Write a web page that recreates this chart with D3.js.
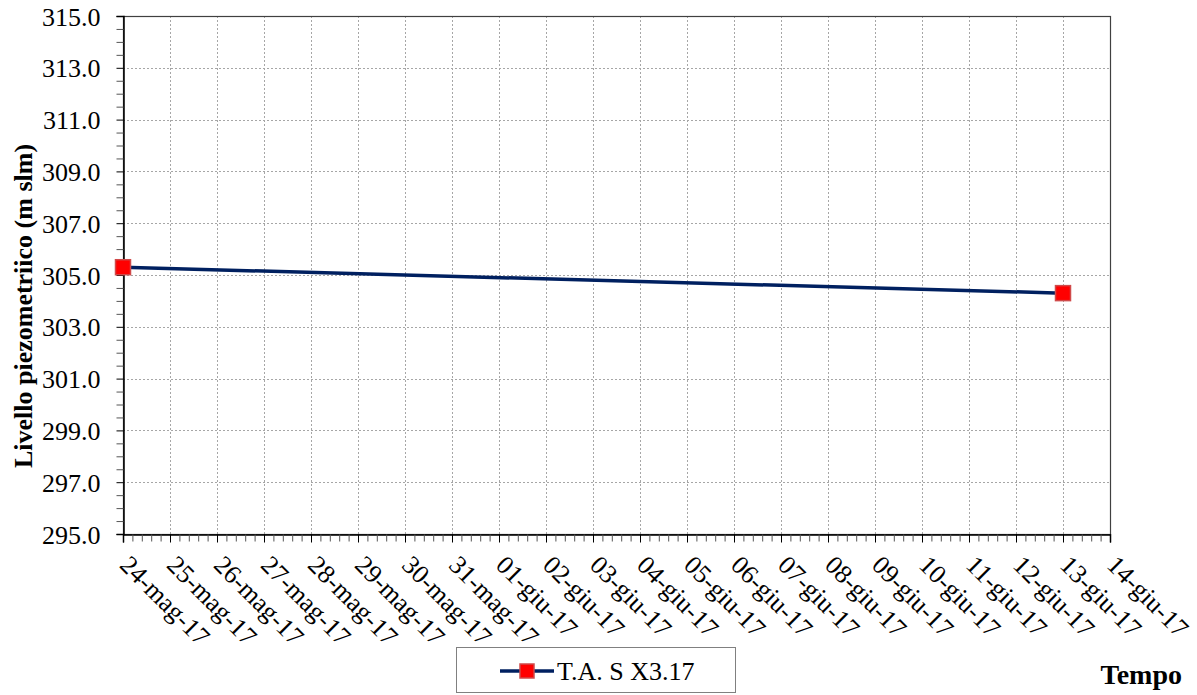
<!DOCTYPE html>
<html>
<head>
<meta charset="utf-8">
<script src="https://cdn.jsdelivr.net/npm/d3@7"></script>
<style>
  html, body { margin: 0; padding: 0; background: #fff; }
  svg { display: block; }
</style>
</head>
<body>
<svg id="chart" width="1197" height="695"></svg>
<script>
// ---- data ----
const seriesName = "T.A. S X3.17";
const pointDates = ["2017-05-24", "2017-06-13"];
const pointValues = [305.3, 304.3];
const xDomain = ["2017-05-24", "2017-06-14"];
const yDomain = [295, 315];
const yTickValues = [295, 297, 299, 301, 303, 305, 307, 309, 311, 313, 315];
const yMinorStep = 0.5;
const xMinorPerDay = 5;
const shortMonthsIt = ["gen", "feb", "mar", "apr", "mag", "giu", "lug", "ago", "set", "ott", "nov", "dic"];
const yTitle = "Livello piezometriico (m slm)";
const xTitle = "Tempo";

// ---- setup ----
const FONT = "'Liberation Serif', 'Times New Roman', serif";
const parse = d3.timeParse("%Y-%m-%d");
const locale = d3.timeFormatLocale({
  dateTime: "%A %e %B %Y, %X", date: "%d/%m/%Y", time: "%H:%M:%S",
  periods: ["AM", "PM"],
  days: ["domenica","lunedì","martedì","mercoledì","giovedì","venerdì","sabato"],
  shortDays: ["dom","lun","mar","mer","gio","ven","sab"],
  months: ["gennaio","febbraio","marzo","aprile","maggio","giugno","luglio","agosto","settembre","ottobre","novembre","dicembre"],
  shortMonths: shortMonthsIt
});
const fmt = locale.format("%d-%b-%y");

const svg = d3.select("#chart");
const m = { left: 123, top: 16, right: 1110, bottom: 534 };

const x = d3.scaleTime().domain(xDomain.map(parse)).range([m.left, m.right]);
const y = d3.scaleLinear().domain(yDomain).range([m.bottom, m.top]);

const days = d3.timeDay.range(parse(xDomain[0]), d3.timeDay.offset(parse(xDomain[1]), 1));
const dayMs = 24 * 3600 * 1000;
const minorX = [];
days.slice(0, -1).forEach(d => {
  for (let i = 1; i < xMinorPerDay; i++) minorX.push(new Date(d.getTime() + i * dayMs / xMinorPerDay));
});
const minorY = d3.range(yDomain[0], yDomain[1] + 0.001, yMinorStep).filter(v => !yTickValues.includes(v));

// gridlines
const grid = svg.append("g").attr("stroke", "#a6a6a6").attr("stroke-width", 1).attr("stroke-dasharray", "2,2");
grid.selectAll("line.v").data(days.slice(1)).join("line")
  .attr("x1", d => Math.round(x(d)) + 0.5).attr("x2", d => Math.round(x(d)) + 0.5)
  .attr("y1", m.top).attr("y2", m.bottom);
grid.selectAll("line.h").data(yTickValues.slice(1)).join("line")
  .attr("x1", m.left).attr("x2", m.right)
  .attr("y1", d => Math.round(y(d)) + 0.5).attr("y2", d => Math.round(y(d)) + 0.5);

// plot border
svg.append("rect").attr("x", m.left + 0.5).attr("y", m.top + 0.5)
  .attr("width", m.right - m.left).attr("height", m.bottom - m.top)
  .attr("fill", "none").attr("stroke", "#404040").attr("stroke-width", 1.2);

// y axis
const yAxis = svg.append("g").attr("transform", `translate(${m.left + 0.5},0)`)
  .call(d3.axisLeft(y).tickValues(yTickValues).tickSize(7).tickPadding(16).tickFormat(d3.format(".1f")));
yAxis.attr("font-family", null).attr("font-size", null);
yAxis.select(".domain").attr("stroke", "#000").attr("stroke-width", 1.5);
yAxis.selectAll("text").style("font-family", FONT).style("font-size", "26px").attr("fill", "#000").attr("dy", "0.35em");
svg.append("g").attr("transform", `translate(${m.left + 0.5},0)`)
  .call(d3.axisLeft(y).tickValues(minorY).tickSize(7).tickFormat(""))
  .call(g => g.select(".domain").remove())
  .selectAll("line").attr("stroke", "#555");

// x axis
const xAxis = svg.append("g").attr("transform", `translate(0,${m.bottom + 0.5})`)
  .call(d3.axisBottom(x).tickValues(days).tickSize(8).tickFormat(fmt));
xAxis.attr("font-family", null).attr("font-size", null);
xAxis.select(".domain").attr("stroke", "#000").attr("stroke-width", 1.5);
xAxis.selectAll("text")
  .style("font-family", FONT).style("font-size", "26px").attr("fill", "#000")
  .attr("text-anchor", "start")
  .attr("dy", 0).attr("y", 0)
  .attr("transform", "translate(-5,32) rotate(45)");
svg.append("g").attr("transform", `translate(0,${m.bottom + 0.5})`)
  .call(d3.axisBottom(x).tickValues(minorX).tickSize(7).tickFormat(""))
  .call(g => g.select(".domain").remove())
  .selectAll("line").attr("stroke", "#555");

// series
const pts = pointDates.map((d, i) => ({ date: parse(d), value: pointValues[i] }));
svg.append("path").datum(pts)
  .attr("fill", "none").attr("stroke", "#002060").attr("stroke-width", 3.5)
  .attr("d", d3.line().x(d => x(d.date)).y(d => y(d.value)));
const ms = 15;
svg.selectAll("rect.mk").data(pts).join("rect")
  .attr("x", d => x(d.date) - ms / 2).attr("y", d => y(d.value) - ms / 2)
  .attr("width", ms).attr("height", ms)
  .attr("fill", "#ff0000").attr("stroke", "#d04a4a").attr("stroke-width", 1.5);

// axis titles
svg.append("text").attr("transform", `translate(32,306) rotate(-90)`)
  .attr("text-anchor", "middle").style("font-family", FONT).style("font-size", "26px").style("font-weight", "bold")
  .text(yTitle);
svg.append("text").attr("x", 1182).attr("y", 684)
  .attr("text-anchor", "end").style("font-family", FONT).style("font-size", "28px").style("font-weight", "bold")
  .text(xTitle);

// legend
const lg = svg.append("g");
lg.append("rect").attr("x", 456.5).attr("y", 647.5).attr("width", 279).attr("height", 45)
  .attr("fill", "#fff").attr("stroke", "#808080").attr("stroke-width", 1);
lg.append("line").attr("x1", 500).attr("x2", 554).attr("y1", 671).attr("y2", 671)
  .attr("stroke", "#002060").attr("stroke-width", 3.5);
lg.append("rect").attr("x", 527 - 7).attr("y", 671 - 7).attr("width", 14).attr("height", 14)
  .attr("fill", "#ff0000").attr("stroke", "#d04a4a").attr("stroke-width", 1.5);
lg.append("text").attr("x", 557).attr("y", 680).style("font-family", FONT).style("font-size", "26px").text(seriesName);
</script>
</body>
</html>
